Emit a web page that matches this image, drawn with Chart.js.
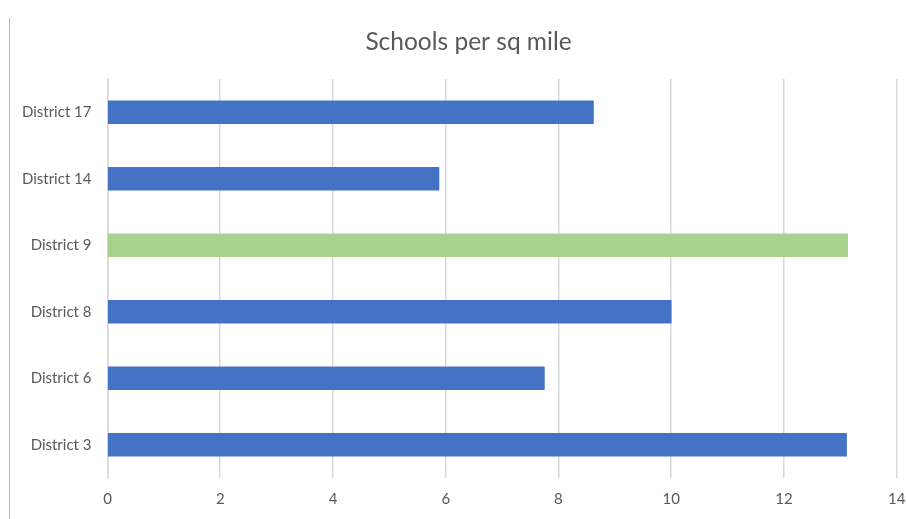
<!DOCTYPE html>
<html>
<head>
<meta charset="utf-8">
<script src="https://cdn.jsdelivr.net/npm/chart.js@4"></script>
<style>
  html, body { margin: 0; padding: 0; background: #fff; overflow: hidden; }
  #wrap { position: relative; width: 906px; height: 519px; overflow: hidden; }
  #c { position: absolute; left: 0; top: 0; }
  #edge { position: absolute; left: 9px; top: 18px; width: 0; height: 501px; border-left: 1px solid #b4b4b4; }
</style>
</head>
<body>
<div id="wrap">
  <canvas id="c" width="937" height="519"></canvas>
  <div id="edge"></div>
</div>
<script>
const categories = ["District 17", "District 14", "District 9", "District 8", "District 6", "District 3"];
const values = [8.62, 5.88, 13.13, 10.0, 7.75, 13.11];
const barColors = ["#4472C4", "#4472C4", "#A9D18E", "#4472C4", "#4472C4", "#4472C4"];
const titleText = "Schools per sq mile";

new Chart(document.getElementById("c"), {
  type: "bar",
  data: {
    labels: categories,
    datasets: [{
      data: values,
      backgroundColor: barColors,
      borderWidth: 0,
      barThickness: 23
    }]
  },
  options: {
    indexAxis: "y",
    responsive: false,
    animation: false,
    layout: { padding: 0 },
    plugins: {
      legend: { display: false },
      tooltip: { enabled: false },
      title: {
        display: true,
        text: titleText,
        color: "#595959",
        font: { family: "Lato", size: 24.5, weight: "normal", lineHeight: 1.2 },
        padding: { top: 27.5, bottom: 22.1 }
      }
    },
    scales: {
      x: {
        min: 0, max: 14,
        ticks: { stepSize: 2, color: "#595959", font: { family: "Lato", size: 15 }, padding: 12, maxRotation: 0 },
        grid: { color: "#d9d9d9", lineWidth: 1.5, drawTicks: false },
        border: { display: false },
        afterFit: (s) => { s.height = 41; s.paddingLeft = 0; s.paddingRight = 40.3; }
      },
      y: {
        ticks: { color: "#595959", font: { family: "Lato", size: 15 }, padding: 16 },
        grid: { display: false, drawTicks: false },
        border: { color: "#d9d9d9", width: 1.5 },
        afterFit: (s) => { s.width = 107.5; s.paddingTop = 0; s.paddingBottom = 0; }
      }
    }
  }
});
</script>
</body>
</html>
